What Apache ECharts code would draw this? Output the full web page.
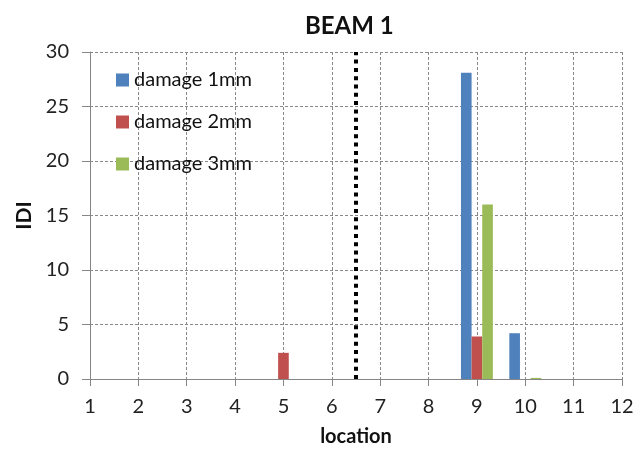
<!DOCTYPE html>
<html>
<head>
<meta charset="utf-8">
<title>BEAM 1</title>
<script src="https://cdn.jsdelivr.net/npm/echarts@6/dist/echarts.min.js"></script>
<style>
  html, body { margin: 0; padding: 0; background: #fff; }
  #chart { width: 644px; height: 452px; }
</style>
</head>
<body>
<div id="chart"></div>
<script>
// Damage locations along the beam
const locations = ['1', '2', '3', '4', '5', '6', '7', '8', '9', '10', '11', '12'];

// IDI values per location for each damage depth
const damage1mm = [0, 0, 0, 0, 0, 0, 0, 0, 28.1, 4.2, 0, 0];
const damage2mm = [0, 0, 0, 0, 2.4, 0, 0, 0, 3.9, 0, 0, 0];
const damage3mm = [0, 0, 0, 0, 0, 0, 0, 0, 16.0, 0.1, 0, 0];

// Reference position (between locations 6 and 7)
const referenceLine = [[6.5, 0], [6.5, 30]];

const seriesNames = ['damage 1mm', 'damage 2mm', 'damage 3mm'];
const seriesColors = ['#4F81BD', '#C0504D', '#9BBB59'];

const FONT = 'Lato, "Open Sans", "Noto Sans", sans-serif';
const AXIS_GRAY = '#868686';

const chart = echarts.init(document.getElementById('chart'), null, { renderer: 'canvas' });

function barSeries(name, values, color) {
  return {
    name: name,
    type: 'bar',
    xAxisIndex: 0,
    yAxisIndex: 0,
    data: values,
    barGap: '0%',
    barCategoryGap: '34%',
    itemStyle: { color: color },
    emphasis: { disabled: true }
  };
}

chart.setOption({
  animation: false,
  backgroundColor: '#ffffff',
  title: {
    text: 'BEAM 1',
    left: 300,
    top: 9,
    textStyle: { fontFamily: FONT, fontSize: 24, fontWeight: 'bold', color: '#111' }
  },
  legend: {
    data: seriesNames,
    orient: 'vertical',
    left: 111,
    top: 65,
    itemWidth: 13,
    itemHeight: 13,
    itemGap: 22,
    icon: 'rect',
    textStyle: { fontFamily: FONT, fontSize: 20, color: '#111' }
  },
  grid: { left: 90, right: 22, top: 52, bottom: 72, containLabel: false },
  xAxis: [
    {
      type: 'category',
      data: locations,
      boundaryGap: false,
      name: 'location',
      nameLocation: 'middle',
      nameGap: 48,
      nameTextStyle: { fontFamily: FONT, fontSize: 20, fontWeight: 'bold', color: '#111' },
      axisLine: { lineStyle: { color: AXIS_GRAY, width: 1 } },
      axisTick: { show: true, length: 7, alignWithLabel: true, lineStyle: { color: AXIS_GRAY } },
      axisLabel: { fontFamily: FONT, fontSize: 20, color: '#222', margin: 18, interval: 0 },
      splitLine: { show: true, interval: 0, lineStyle: { color: '#888', type: [3, 2], width: 1 } }
    },
    {
      type: 'value',
      min: 1,
      max: 12,
      show: false,
      gridIndex: 0
    }
  ],
  yAxis: {
    type: 'value',
    min: 0,
    max: 30,
    interval: 5,
    name: 'IDI',
    nameLocation: 'middle',
    nameGap: 54,
    nameTextStyle: { fontFamily: FONT, fontSize: 21, fontWeight: 'bold', color: '#111' },
    axisLine: { show: true, lineStyle: { color: AXIS_GRAY, width: 1 } },
    axisTick: { show: true, length: 8, lineStyle: { color: AXIS_GRAY } },
    axisLabel: { fontFamily: FONT, fontSize: 20, color: '#222', margin: 21 },
    splitLine: { show: true, lineStyle: { color: '#888', type: [3, 2], width: 1 } }
  },
  series: [
    barSeries(seriesNames[0], damage1mm, seriesColors[0]),
    barSeries(seriesNames[1], damage2mm, seriesColors[1]),
    barSeries(seriesNames[2], damage3mm, seriesColors[2]),
    {
      name: 'reference',
      type: 'line',
      xAxisIndex: 1,
      yAxisIndex: 0,
      data: referenceLine,
      symbol: 'none',
      silent: true,
      z: 5,
      lineStyle: { color: '#000', width: 4, type: [4, 4.3], cap: 'butt' }
    }
  ]
});
</script>
</body>
</html>
